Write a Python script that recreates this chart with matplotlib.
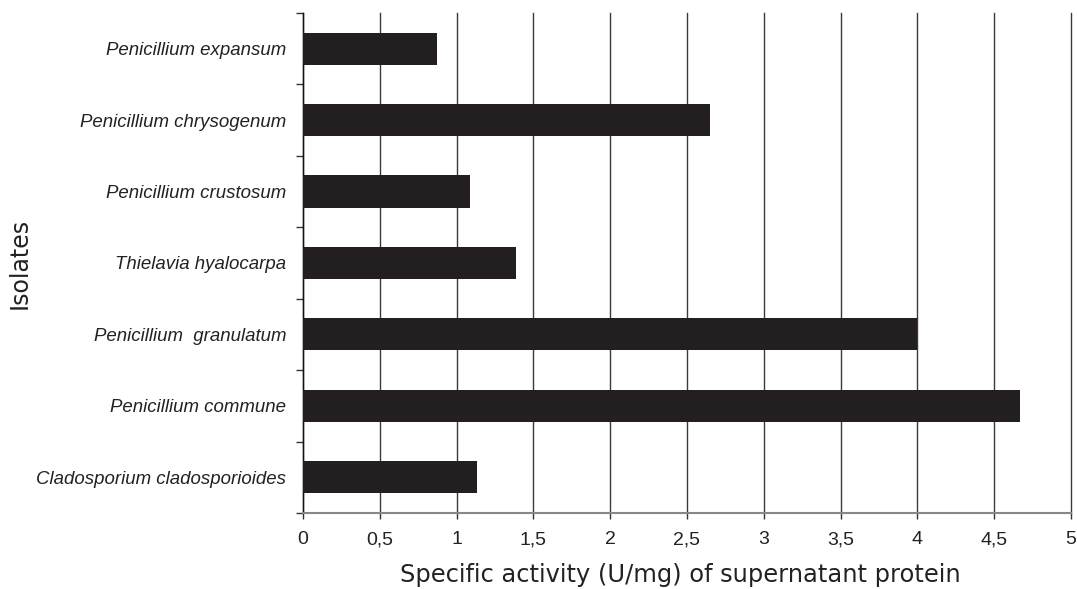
import matplotlib.pyplot as plt
import numpy as np

# isolates, top to bottom as in the figure
isolates = [
    "Penicillium expansum",
    "Penicillium chrysogenum",
    "Penicillium crustosum",
    "Thielavia hyalocarpa",
    "Penicillium  granulatum",
    "Penicillium commune",
    "Cladosporium cladosporioides",
]
activity = [0.87, 2.65, 1.09, 1.39, 4.0, 4.67, 1.13]
x_ticks = [0, 0.5, 1, 1.5, 2, 2.5, 3, 3.5, 4, 4.5, 5]
x_labels = ["0", "0,5", "1", "1,5", "2", "2,5", "3", "3,5", "4", "4,5", "5"]

fig = plt.figure(figsize=(10.77, 5.89), dpi=100)
ax = fig.add_axes([0.2813, 0.129, 0.7131, 0.849])

n = len(isolates)
ypos = np.arange(n)[::-1]
ax.barh(ypos, activity, height=0.45, color="#231f20", zorder=3)

ax.set_xlim(0, 5)
ax.set_ylim(-0.5, n - 0.5)

# vertical gridlines
ax.set_xticks(x_ticks)
ax.set_xticklabels(x_labels, fontsize=14, family="Liberation Sans", color="#222222")
ax.xaxis.grid(True, color="#3a3a3a", linewidth=1.0, zorder=1)
for gl in ax.get_xgridlines():
    gl.set_clip_on(False)
ax.tick_params(axis="x", direction="out", length=4, width=1, color="#333333", pad=9)

# category boundary ticks on the left, labels at the bar centres
ax.set_yticks(np.arange(-0.5, n, 1.0))
ax.set_yticklabels([])
ax.tick_params(axis="y", which="major", direction="out", length=5, width=1, color="#333333")
ax.set_yticks(ypos, minor=True)
ax.set_yticklabels(isolates, minor=True, fontsize=13.4, style="italic",
                   family="Liberation Sans", color="#222222")
ax.tick_params(axis="y", which="minor", length=0, pad=12)

ax.spines["top"].set_visible(False)
ax.spines["right"].set_visible(False)
ax.spines["left"].set_color("#111111")
ax.spines["bottom"].set_color("#888888")
ax.spines["left"].set_linewidth(1.0)
ax.spines["bottom"].set_linewidth(1.5)

fig.text(680 / 1077, 1 - 582 / 589, "Specific activity (U/mg) of supernatant protein",
         fontsize=17.4, family="DejaVu Sans", color="#222222", ha="center", va="baseline")
ax.set_ylabel("Isolates", fontsize=17, family="DejaVu Sans", color="#222222")
ax.yaxis.set_label_coords(-271 / 768, 0.5)

fig.savefig("out.png", dpi=100)
